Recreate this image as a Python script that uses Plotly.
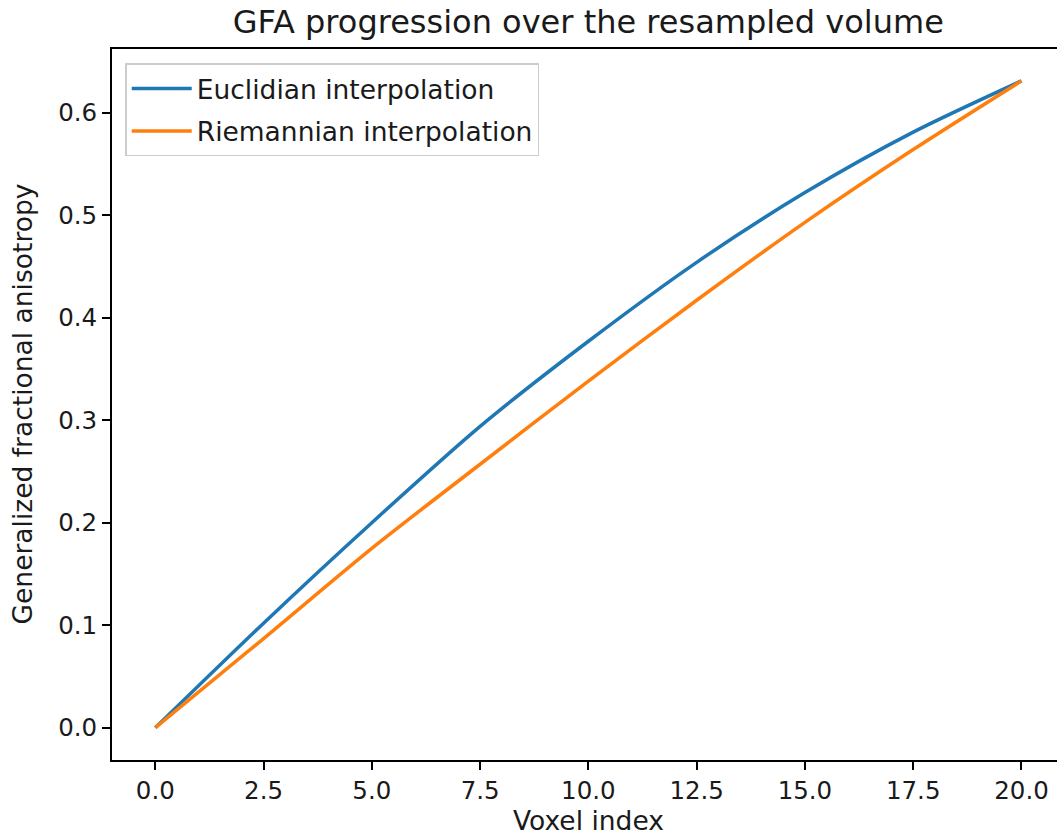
import plotly.graph_objects as go

voxel_index = [0.0, 2.5, 5.0, 7.5, 10.0, 12.5, 15.0, 17.5, 20.0]
gfa_euclidian = [0.000, 0.102, 0.200, 0.294, 0.377, 0.454, 0.522, 0.581, 0.631]
gfa_riemannian = [0.000, 0.087, 0.175, 0.257, 0.338, 0.417, 0.493, 0.564, 0.631]

x_ticks = [0, 2.5, 5, 7.5, 10, 12.5, 15, 17.5, 20]
y_ticks = [0.0, 0.1, 0.2, 0.3, 0.4, 0.5, 0.6]

FONT = "DejaVu Sans"
TXT = "#1a1a1a"

fig = go.Figure()
fig.add_trace(go.Scatter(x=voxel_index, y=gfa_euclidian, mode="lines",
                         name="Euclidian interpolation", legendgroup="e",
                         line=dict(color="#1f77b4", width=3.5, shape="spline", smoothing=0.8)))
fig.add_trace(go.Scatter(x=voxel_index, y=gfa_riemannian, mode="lines",
                         name="Riemannian interpolation", legendgroup="r",
                         line=dict(color="#ff7f0e", width=3.5, shape="spline", smoothing=0.8)))

L, R, T, B = 112, 0, 49, 78
W, H = 1057, 838
fig.update_layout(
    width=W, height=H,
    margin=dict(l=L, r=R, t=T, b=B, pad=0),
    paper_bgcolor="white", plot_bgcolor="white",
    font=dict(family=FONT, size=24, color=TXT),
    showlegend=True,
    legend=dict(x=0.014, y=0.98, xanchor="left", yanchor="top",
                bgcolor="rgba(255,255,255,0.8)", bordercolor="#cccccc", borderwidth=1.5,
                font=dict(family=FONT, size=26.5, color=TXT),
                tracegroupgap=5, itemwidth=60),
    title=dict(text="GFA progression over the resampled volume",
               x=0.504, xref="paper", xanchor="center",
               y=1 - 22 / H, yref="container", yanchor="middle",
               font=dict(family=FONT, size=32, color=TXT)),
)

fig.update_xaxes(range=[-1, 20.82], tickmode="array", tickvals=x_ticks,
                 tickformat=".1f", ticks="outside", ticklen=8, tickwidth=1.9,
                 tickcolor="black", showline=True, linecolor="black", linewidth=1.9,
                 mirror=True, showgrid=False, zeroline=False,
                 tickfont=dict(family=FONT, size=24.5, color=TXT))
fig.update_yaxes(range=[-0.0315, 0.6621], tickmode="array", tickvals=y_ticks,
                 tickformat=".1f", ticks="outside", ticklen=8, tickwidth=1.9,
                 tickcolor="black", showline=True, linecolor="black", linewidth=1.9,
                 mirror=False, showgrid=False, zeroline=False,
                 tickfont=dict(family=FONT, size=24.5, color=TXT))

plot_h = H - T - B
fig.add_annotation(text="Voxel index", xref="paper", yref="paper",
                   x=(588 - L) / (W - L - R), y=(H - B - 821) / plot_h,
                   xanchor="center", yanchor="middle", showarrow=False,
                   font=dict(family=FONT, size=26.5, color=TXT))
fig.add_annotation(text="Generalized fractional anisotropy", xref="paper", yref="paper",
                   x=(22 - L) / (W - L - R), y=0.5, textangle=-90,
                   xanchor="center", yanchor="middle", showarrow=False,
                   font=dict(family=FONT, size=26.5, color=TXT))

fig.write_html("out.html")
